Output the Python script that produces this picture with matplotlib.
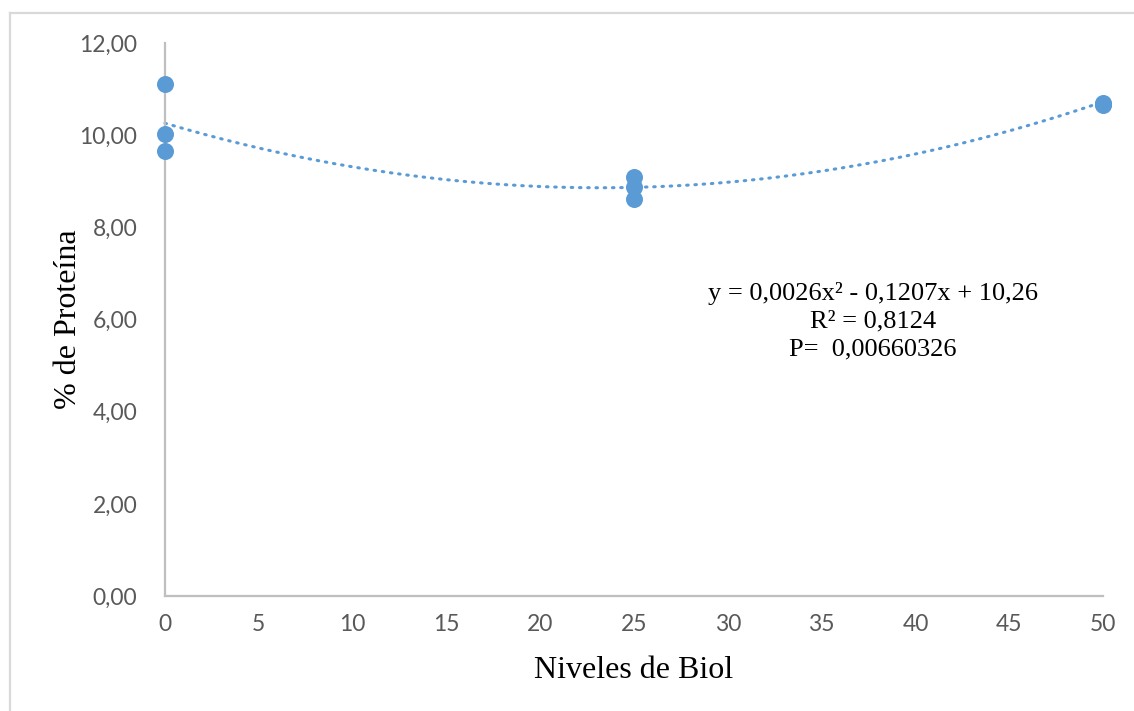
import numpy as np
import matplotlib.pyplot as plt
from matplotlib.lines import Line2D
from matplotlib.ticker import FuncFormatter, MultipleLocator

# Biol levels and protein content (three replicates per level)
niveles = [0, 0, 0, 25, 25, 25, 50, 50, 50]
proteina = [11.12, 10.02, 9.66, 9.09, 8.88, 8.61, 10.70, 10.68, 10.66]

# Quadratic trend coefficients (a*x^2 + b*x + c)
coef = [0.0026, -0.1207, 10.26]
r2 = "0,8124"
p_valor = "0,00660326"

azul = "#5B9BD5"
gris = "#BFBFBF"

fig = plt.figure(figsize=(11.34, 7.11), dpi=100, facecolor="white")
ax = fig.add_axes([0.1455, 0.1617, 0.8272, 0.7778])

# trendline
xs = np.linspace(0, 50, 200)
ax.plot(xs, np.polyval(coef, xs), color=azul, lw=2.2, linestyle=(0, (0.5, 2.2)),
        dash_capstyle="round", zorder=2, clip_on=False)
ax.scatter(niveles, proteina, s=150, color=azul, zorder=3, linewidths=0,
           clip_on=False)

ax.set_xlim(0, 50)
ax.set_ylim(0, 12)
ax.xaxis.set_major_locator(MultipleLocator(5))
ax.yaxis.set_major_locator(MultipleLocator(2))
ax.yaxis.set_major_formatter(FuncFormatter(lambda v, _: f"{v:.2f}".replace(".", ",")))

for s in ["top", "right"]:
    ax.spines[s].set_visible(False)
for s in ["left", "bottom"]:
    ax.spines[s].set_color(gris)
    ax.spines[s].set_linewidth(1.6)
ax.tick_params(length=0, labelsize=16.5, labelcolor="#595959")
ax.tick_params(axis="y", pad=20)
ax.tick_params(axis="x", pad=13)
for lab in ax.get_xticklabels() + ax.get_yticklabels():
    lab.set_fontfamily("Lato")

serif = "Liberation Serif"
ax.set_xlabel("Niveles de Biol", fontsize=23, fontfamily=serif, labelpad=15)
ax.set_ylabel("% de Proteína", fontsize=23, fontfamily=serif, labelpad=-3)

a, b, c = coef
eq = (f"y = {a:.4f}x² - {abs(b):.4f}x + {c:.2f}".replace(".", ",")
      + f"\nR² = {r2}\nP=  {p_valor}")
ax.text(37.75, 6.82, eq, fontsize=19, fontfamily=serif, ha="center", va="top",
        linespacing=1.35)

# outer chart frame
fig.add_artist(Line2D([10 / 1134, 10 / 1134], [0, 1 - 13 / 711],
                      transform=fig.transFigure, color="#D9D9D9", lw=1.6))
fig.add_artist(Line2D([10 / 1134, 1], [1 - 13 / 711, 1 - 13 / 711],
                      transform=fig.transFigure, color="#D9D9D9", lw=1.6))

fig.savefig("out.png", dpi=100, facecolor="white")
